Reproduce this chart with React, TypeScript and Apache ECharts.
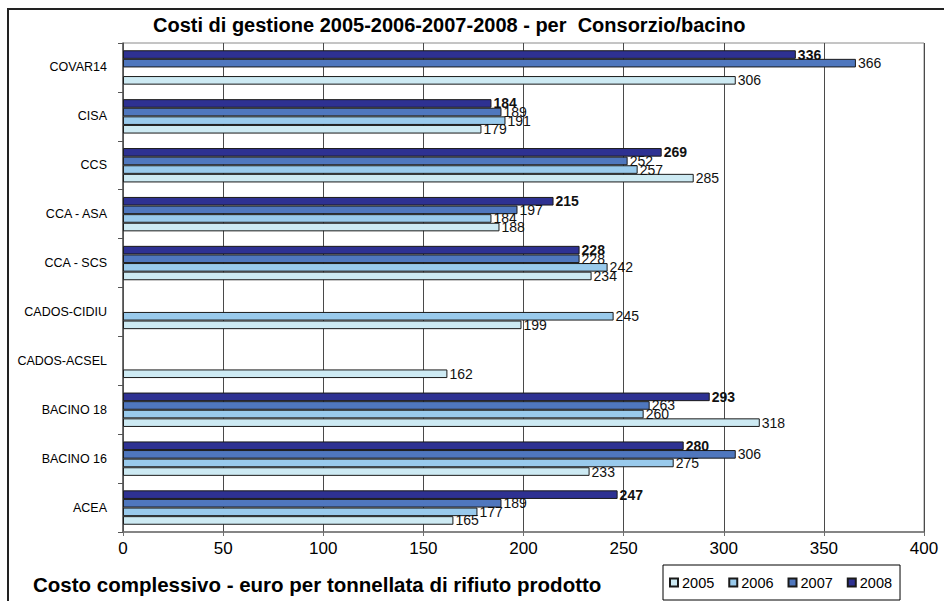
import React, { useEffect, useRef } from "react";
import * as echarts from "echarts";

const categories = [
  "ACEA",
  "BACINO 16",
  "BACINO 18",
  "CADOS-ACSEL",
  "CADOS-CIDIU",
  "CCA - SCS",
  "CCA - ASA",
  "CCS",
  "CISA",
  "COVAR14",
];
const years = ["2005", "2006", "2007", "2008"];
const v2005 = [165, 233, 318, 162, 199, 234, 188, 285, 179, 306];
const v2006 = [177, 275, 260, null, 245, 242, 184, 257, 191, null];
const v2007 = [189, 306, 263, null, null, 228, 197, 252, 189, 366];
const v2008 = [247, 280, 293, null, null, 228, 215, 269, 184, 336];
const xTicks = [0, 50, 100, 150, 200, 250, 300, 350, 400];

const colors = ["#cdeaf3", "#99caec", "#4f77be", "#2e3192"];
const FONT = "'Liberation Sans', Arial, sans-serif";

export default function App() {
  const ref = useRef<HTMLDivElement>(null);
  useEffect(() => {
    if (!ref.current) return;
    const chart = echarts.init(ref.current, null, { renderer: "svg" });
    const values = [v2005, v2006, v2007, v2008];
    // draw 2008 first so it sits on top within each category
    const order = [3, 2, 1, 0];
    chart.setOption({
      animation: false,
      backgroundColor: "#ffffff",
      textStyle: { fontFamily: FONT },
      grid: {
        left: 123,
        right: 20,
        top: 43,
        bottom: 69,
        show: true,
        borderColor: "#8a8a8a",
        borderWidth: 1,
        backgroundColor: "transparent",
      },
      xAxis: {
        type: "value",
        min: xTicks[0],
        max: xTicks[xTicks.length - 1],
        interval: 50,
        axisLine: { show: true, lineStyle: { color: "#707070", width: 1.5 } },
        axisTick: { show: true, length: 4, lineStyle: { color: "#707070" } },
        axisLabel: { fontSize: 17, color: "#000", fontFamily: FONT, margin: 8 },
        splitLine: { show: true, lineStyle: { color: "#4a4a4a", width: 1 } },
      },
      yAxis: {
        type: "category",
        data: categories,
        axisLine: { show: true, lineStyle: { color: "#555", width: 1.5 } },
        axisTick: { show: true, length: 5, lineStyle: { color: "#555" } },
        axisLabel: { fontSize: 12.5, color: "#000", fontFamily: FONT, margin: 16 },
        splitLine: { show: false },
      },
      legend: {
        data: years,
        left: 663,
        top: 565,
        orient: "horizontal",
        itemWidth: 8,
        itemHeight: 8,
        itemGap: 14,
        padding: [10, 8, 10, 6],
        borderColor: "#000",
        borderWidth: 1,
        backgroundColor: "#fff",
        icon: "rect",
        textStyle: { fontSize: 14.5, color: "#000", fontFamily: FONT, padding: [0, 0, 0, -1] },
      },
      graphic: [
        {
          type: "rect",
          shape: { x: 8, y: 9, width: 1000, height: 700 },
          style: { fill: "none", stroke: "#222", lineWidth: 2 },
          silent: true,
          z: -10,
        },
        {
          type: "text",
          left: 153,
          top: 15,
          style: {
            text: "Costi di gestione 2005-2006-2007-2008 - per  Consorzio/bacino",
            font: `bold 20px ${FONT}`,
            fill: "#000",
          },
        },
        {
          type: "text",
          left: 33,
          top: 574,
          style: {
            text: "Costo complessivo - euro per tonnellata di rifiuto prodotto",
            font: `bold 20.5px ${FONT}`,
            fill: "#000",
          },
        },
      ],
      series: order.map((i) => ({
        name: years[i],
        type: "bar",
        data: values[i],
        barWidth: 8.6,
        barGap: "0%",
        itemStyle: { color: colors[i], borderColor: "#1a1a1a", borderWidth: 1 },
        label: {
          show: true,
          position: "right",
          distance: 2,
          fontSize: 14,
          color: "#111",
          fontFamily: FONT,
          fontWeight: i === 3 ? "bold" : "normal",
        },
      })),
    });
    return () => chart.dispose();
  }, []);
  return (
    <div
      ref={ref}
      style={{ position: "absolute", left: 0, top: 0, width: 944, height: 601 }}
    />
  );
}
